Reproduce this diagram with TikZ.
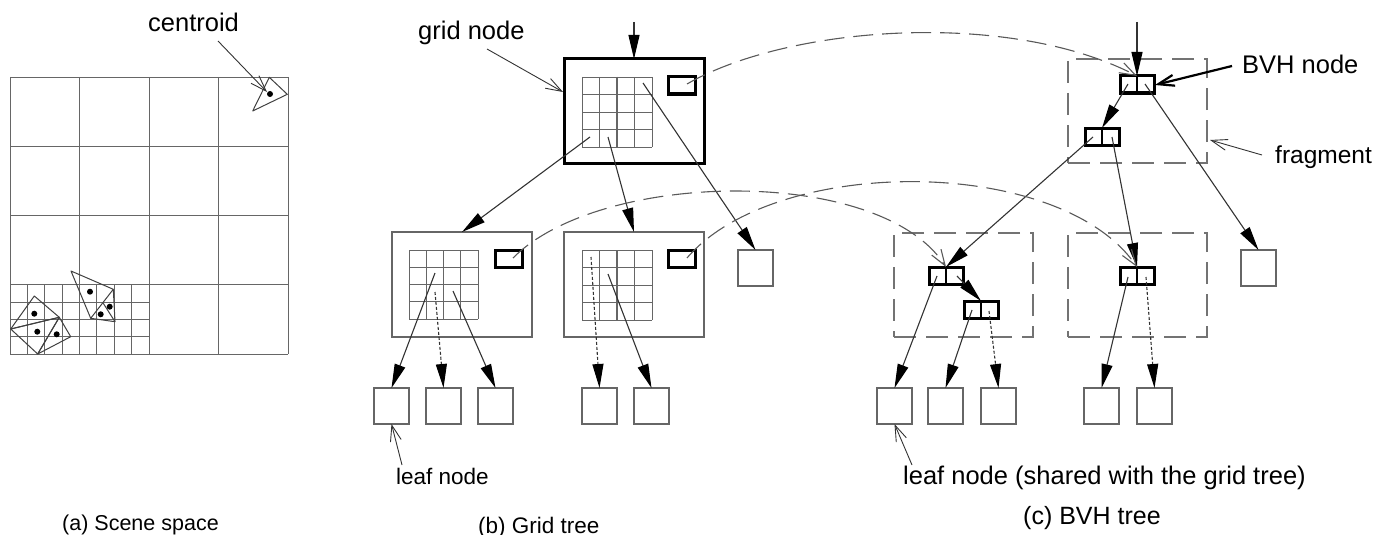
\documentclass[tikz,border=0pt]{standalone}
\usepackage{fontspec}
\setmainfont{Liberation Sans}
\usetikzlibrary{arrows.meta}
\newcommand\gridfour[3]{%
  \foreach \i in {0,...,4} {%
    \draw[gl] ({#1+\i*#3/4},#2) -- ++(0,#3);
    \draw[gl] (#1,{#2+\i*#3/4}) -- ++(#3,0);
  }%
  \draw[gl, line width=1.6pt] ({#1+#3/2},#2) -- ++(0,#3);
}
\begin{document}
\begin{tikzpicture}[x=1pt,y=-1pt,
  gl/.style={draw=black!60, line width=0.9pt},
  conn/.style={draw=black!80, line width=1.1pt, arrows={-Triangle[length=24pt,width=11pt,color=black]}},
  dconn/.style={conn, dash pattern=on 3pt off 2pt},
  lbl/.style={draw=black!80, line width=0.9pt, arrows={-Straight Barb[length=16pt,width=11pt]}},
  arc/.style={draw=black!65, line width=1.1pt, dash pattern=on 20pt off 9pt, arrows={-Straight Barb[length=16pt,width=11pt]}},
  leaf/.style={draw=black!60, line width=1.3pt, minimum width=35pt, minimum height=36pt, inner sep=0pt, outer sep=0pt, anchor=north west},
  gbox/.style={draw=black!60, line width=1.3pt, minimum width=140pt, minimum height=105pt, inner sep=0pt, outer sep=0pt, anchor=north west},
  ptr/.style={draw=black, line width=3pt, minimum width=27pt, minimum height=17pt, inner sep=0pt, outer sep=0pt, anchor=north west},
  bvh/.style={draw=black, line width=3pt, minimum width=34pt, minimum height=17pt, inner sep=0pt, outer sep=0pt, anchor=north west},
  frag/.style={draw=black!55, line width=1.3pt, dash pattern=on 22pt off 10pt, minimum width=139pt, minimum height=104pt, inner sep=0pt, outer sep=0pt, anchor=north west},
  txt/.style={inner sep=0pt, anchor=base west},
  tri/.style={draw=black!75, line width=1pt, line join=round},
  dot/.style={fill=black},
]
\useasboundingbox (0,0) rectangle (1390,535);

%% (a) Scene space
\foreach \i in {0,...,4} {
  \draw[gl] ({10+\i*69.5},77) -- ({10+\i*69.5},354);
  \draw[gl] (10,{77+\i*69.25}) -- (288,{77+\i*69.25});
}
\foreach \i in {1,...,7} \draw[gl] ({10+\i*17.375},285) -- ({10+\i*17.375},354);
\foreach \i in {1,...,3} \draw[gl] (10,{285+\i*17.3}) -- (149,{285+\i*17.3});
\draw[gl, line width=1.5pt] (10,319.6) -- (149,319.6);
\draw[gl, line width=1.3pt] (114.3,285) -- (114.3,354);

% triangles
\draw[tri] (269.3,77.3) -- (287.3,94.3) -- (252.7,111) -- cycle;
\fill[dot] (270,94) circle (3pt);
\draw[tri] (10.7,329) -- (34.3,296) -- (59.3,317.3) -- cycle;
\draw[tri] (10.7,329) -- (59.3,317.3) -- (37.7,354) -- cycle;
\draw[tri] (59.3,317.3) -- (70.7,336.7) -- (37.7,354) -- cycle;
\fill[dot] (34.3,313.7) circle (3pt) (37.3,331.7) circle (3pt) (56.7,334.3) circle (3pt);
\draw[tri] (71,271) -- (113.3,289.3) -- (90.7,318.3) -- cycle;
\draw[tri] (113.3,289.3) -- (115,321.7) -- (90.7,318.3);
\draw[tri] (103.3,303.3) -- (115,321.7);
\fill[dot] (90,291.7) circle (3pt) (109.7,306.7) circle (3pt) (100.7,314.3) circle (3pt);

\node[txt] (lcent) at (148,32) {\fontsize{25.5}{30}\selectfont centroid};
\coordinate (cs) at (218,41);
\coordinate (ce) at (267,92);
\draw[lbl] (cs) -- (ce);

\node[txt] (capa) at (62,530) {\fontsize{21.5}{26}\selectfont (a) Scene space};

%% (b) Grid tree
\node[gbox, draw=black, line width=3pt, minimum height=104pt] (g0) at (564,59) {};
\gridfour{582}{77}{70}
\node[ptr] (g0p) at (668,77) {};

\node[gbox] (g1) at (392,232) {};
\gridfour{409}{250}{69}
\node[ptr] (g1p) at (495,250) {};

\node[gbox] (g2) at (564,232) {};
\gridfour{582}{250}{70}
\node[ptr] (g2p) at (668,250) {};

\node[leaf] (g3) at (738,250) {};
\node[leaf] (L1) at (374,388) {};
\node[leaf] (L2) at (426,388) {};
\node[leaf] (L3) at (478,388) {};
\node[leaf] (L4) at (582,388) {};
\node[leaf] (L5) at (634,388) {};

\coordinate (g0in) at (634,22);
\draw[conn] (g0in) -- (g0.north);
\coordinate (g0a) at (590,137);
\coordinate (g0b) at (608,137);
\coordinate (g0c) at (643,83);
\draw[conn] (g0a) -- (g1.north);
\draw[conn] (g0b) -- (g2.north);
\draw[conn] (g0c) -- (g3.north);

\coordinate (g1a) at (435,273);
\coordinate (g1b) at (435,292);
\coordinate (g1c) at (453,291);
\draw[conn] (g1a) -- (L1.north);
\draw[dconn] (g1b) -- (L2.north);
\draw[conn] (g1c) -- (L3.north);
\coordinate (g2a) at (591,257);
\coordinate (g2b) at (608,274);
\draw[dconn] (g2a) -- (L4.north);
\draw[conn] (g2b) -- (L5.north);

\node[txt] (lgrid) at (418,40) {\fontsize{25.5}{30}\selectfont grid node};
\coordinate (gs) at (487,49);
\coordinate (ge) at (563,92);
\draw[lbl] (gs) -- (ge);

\node[txt] (lleaf) at (396,484) {\fontsize{22.5}{27}\selectfont leaf node};
\coordinate (ls) at (402,465);
\draw[lbl] (ls) -- (L1.south);

\node[txt] (capb) at (478,533) {\fontsize{22.5}{27}\selectfont (b) Grid tree};

%% (c) BVH tree
\node[frag] (F0) at (1068,59) {};
\node[frag] (F1) at (894,233) {};
\node[frag] (F2) at (1068,233) {};

\node[bvh] (B0) at (1120,76) {};
\node[bvh] (B1) at (1085,128) {};
\node[bvh] (B2) at (929,267) {};
\node[bvh] (B3) at (964,301) {};
\node[bvh] (B4) at (1120,267) {};
\foreach \b in {B0,B1,B2,B3,B4} \draw[line width=2.5pt] (\b.north) -- (\b.south);

\node[leaf] (L6) at (877,388) {};
\node[leaf] (L7) at (928,388) {};
\node[leaf] (L8) at (981,388) {};
\node[leaf] (L9) at (1084,388) {};
\node[leaf] (L10) at (1137,388) {};
\node[leaf] (L11) at (1241,250) {};

\coordinate (b0in) at (1137,22);
\draw[conn] (b0in) -- (B0.north);
\coordinate (b0a) at (1128,84);
\coordinate (b0b) at (1145,84);
\draw[conn] (b0a) -- (B1.north);
\draw[conn] (b0b) -- (L11.north);
\coordinate (b1a) at (1093,137);
\coordinate (b1b) at (1112,137);
\draw[conn] (b1a) -- (B2.north);
\draw[conn] (b1b) -- (B4.north);
\coordinate (b2a) at (937,276);
\coordinate (b2b) at (957,276);
\draw[conn] (b2b) -- (B3.north);
\draw[conn] (b2a) -- (L6.north);
\coordinate (b3a) at (972,310);
\coordinate (b3b) at (989,311);
\draw[conn] (b3a) -- (L7.north);
\draw[dconn] (b3b) -- (L8.north);
\coordinate (b4a) at (1128,277);
\coordinate (b4b) at (1146,277);
\draw[conn] (b4a) -- (L9.north);
\draw[dconn] (b4b) -- (L10.north);

% dashed arcs grid -> BVH
\coordinate (a0s) at (687,84);
\coordinate (a1s) at (513,258);
\coordinate (a2s) at (687,258);
\draw[arc] (a0s) .. controls (790,25) and (1010,10) .. (B0.north);
\draw[arc] (a1s) .. controls (600,170) and (880,165) .. (B2.north);
\draw[arc] (a2s) .. controls (775,155) and (1060,155) .. (B4.north);

\node[txt] (lbvh) at (1242,74) {\fontsize{25.5}{30}\selectfont BVH node};
\coordinate (bs) at (1232,66);
\coordinate (be) at (1155,85);
\draw[lbl, line width=2.2pt, draw=black] (bs) -- (be);

\node[txt] (lfrag) at (1275,163) {\fontsize{24.5}{30}\selectfont fragment};
\coordinate (fs) at (1262,155);
\coordinate (fe) at (1210,140);
\draw[lbl] (fs) -- (fe);

\node[txt] (lshared) at (903,484) {\fontsize{25.5}{30}\selectfont leaf node (shared with the grid tree)};
\coordinate (ss) at (912,465);
\draw[lbl] (ss) -- (L6.south);

\node[txt] (capc) at (1023,524) {\fontsize{25}{30}\selectfont (c) BVH tree};
\end{tikzpicture}
\end{document}
